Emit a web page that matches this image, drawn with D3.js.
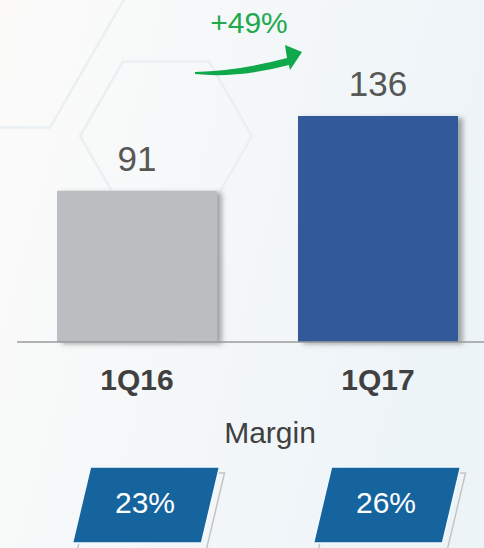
<!DOCTYPE html>
<html>
<head>
<meta charset="utf-8">
<script src="https://cdn.jsdelivr.net/npm/d3@7"></script>
<style>
  html, body { margin: 0; padding: 0; }
  body { width: 484px; height: 548px; overflow: hidden; }
  svg { display: block; font-family: "Liberation Sans", Arial, sans-serif; }
</style>
</head>
<body>
<div class="graph"></div>
<script>
/*---------- DATA ----------*/
const categories = ["1Q16", "1Q17"];
const values = [91, 136];
const margins = ["23%", "26%"];
const growthLabel = "+49%";
const marginTitle = "Margin";

/*---------- SETUP ----------*/
const SIZE = {X: 484, Y: 548};
const BASE = 342;

const svg = d3.select(".graph").append("svg")
    .attr("width", SIZE.X)
    .attr("height", SIZE.Y);

const defs = svg.append("defs");

const bg = defs.append("linearGradient").attr("id", "bg")
    .attr("x1", 0).attr("y1", 0).attr("x2", 1).attr("y2", 0.3);
bg.append("stop").attr("offset", "0%").attr("stop-color", "#fcfbfa");
bg.append("stop").attr("offset", "100%").attr("stop-color", "#edf4f8");

const shadow = defs.append("filter").attr("id", "shadow")
    .attr("x", "-10%").attr("y", "-10%").attr("width", "130%").attr("height", "120%");
shadow.append("feDropShadow")
    .attr("dx", 5).attr("dy", 2).attr("stdDeviation", 2.5)
    .attr("flood-color", "#555").attr("flood-opacity", 0.5);

svg.append("rect").attr("width", SIZE.X).attr("height", SIZE.Y).attr("fill", "url(#bg)");

//background hexagon outlines
function hex(cx, cy, r) {
    return d3.range(6).map(i => {
        const a = Math.PI / 3 * i;
        return [cx + r * Math.cos(a), cy + r * Math.sin(a)];
    });
}
const hexLine = d3.line().curve(d3.curveLinearClosed);
svg.append("g")
    .selectAll("path")
    .data([hex(166, 136, 86), hex(-30, -11, 160)])
    .enter().append("path")
        .attr("d", hexLine)
        .attr("fill", "none")
        .attr("stroke", "#e9eff3")
        .attr("stroke-width", 2.5);

//scales
const x = d3.scaleBand()
    .domain(categories)
    .range([16.5, 498.5])
    .paddingInner(0.336)
    .paddingOuter(0.168);

const y = d3.scaleLinear()
    .domain([0, 136])
    .range([BASE, 116]);

/*---------- BARS ----------*/
const barColors = ["#bbbec1", "#335a9a"];

svg.append("g")
    .selectAll("rect")
    .data(values)
    .enter().append("rect")
        .attr("x", (d, i) => x(categories[i]))
        .attr("y", d => y(d))
        .attr("width", x.bandwidth())
        .attr("height", d => BASE - y(d))
        .attr("fill", (d, i) => barColors[i])
        .attr("filter", "url(#shadow)");

//baseline
svg.append("line")
    .attr("x1", 17).attr("x2", SIZE.X)
    .attr("y1", BASE).attr("y2", BASE)
    .attr("stroke", "#9a9a9a")
    .attr("stroke-width", 1.5);

//value labels
svg.append("g")
    .selectAll("text")
    .data(values)
    .enter().append("text")
        .attr("x", (d, i) => x(categories[i]) + x.bandwidth() / 2)
        .attr("y", d => y(d) - 20)
        .attr("text-anchor", "middle")
        .attr("font-size", 35)
        .attr("fill", "#575757")
        .text(d => d);

//category labels
svg.append("g")
    .selectAll("text")
    .data(categories)
    .enter().append("text")
        .attr("x", d => x(d) + x.bandwidth() / 2)
        .attr("y", 390)
        .attr("text-anchor", "middle")
        .attr("font-size", 30)
        .attr("font-weight", "bold")
        .attr("fill", "#404040")
        .text(d => d);

/*---------- GROWTH ARROW ----------*/
svg.append("text")
    .attr("x", 249)
    .attr("y", 33)
    .attr("text-anchor", "middle")
    .attr("font-size", 30)
    .attr("fill", "#1fa94f")
    .text(growthLabel);

svg.append("path")
    .attr("d", "M195,72 Q239,71 287,58 L285,45 L302,52 L290,70 L289,65 Q238,78.5 195,74 Z")
    .attr("fill", "#0fa84a");

/*---------- MARGIN BOXES ----------*/
svg.append("text")
    .attr("x", 270)
    .attr("y", 443)
    .attr("text-anchor", "middle")
    .attr("font-size", 30)
    .attr("fill", "#404040")
    .text(marginTitle);

const BOX = {W: 129, H: 76, SKEW: 18, TOP: 467};
function para(cx, top) {
    const l = cx - BOX.W / 2;
    return [[l + BOX.SKEW / 2, top], [l + BOX.W + BOX.SKEW / 2, top],
            [l + BOX.W - BOX.SKEW / 2, top + BOX.H], [l - BOX.SKEW / 2, top + BOX.H]];
}
const boxCenter = d => x(d) + x.bandwidth() / 2 + 9;

const boxes = svg.append("g")
    .selectAll("g")
    .data(categories)
    .enter().append("g");

boxes.append("path")
    .attr("d", d => hexLine(para(boxCenter(d) + 5, BOX.TOP + 6)))
    .attr("fill", "none")
    .attr("stroke", "#c4c4c4")
    .attr("stroke-width", 1.5);

boxes.append("path")
    .attr("d", d => hexLine(para(boxCenter(d), BOX.TOP)))
    .attr("fill", "#15649e")
    .attr("stroke", "#f4f8fb")
    .attr("stroke-width", 1.5);

boxes.append("text")
    .attr("x", d => boxCenter(d) - 1)
    .attr("y", 513)
    .attr("text-anchor", "middle")
    .attr("font-size", 30)
    .attr("fill", "#ffffff")
    .text((d, i) => margins[i]);
</script>
</body>
</html>
